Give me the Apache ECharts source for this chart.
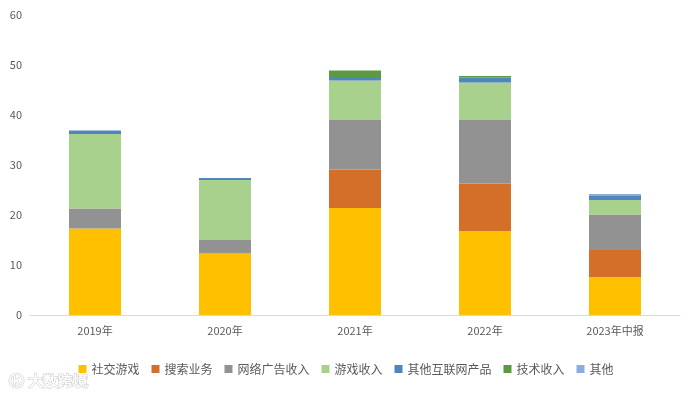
<!DOCTYPE html>
<html>
<head>
<meta charset="utf-8">
<script src="https://cdn.jsdelivr.net/npm/echarts@6/dist/echarts.min.js"></script>
<style>html,body{margin:0;padding:0;background:#fff}#c{width:692px;height:396px}</style>
</head>
<body>
<div id="c"></div>
<script>
const categories = ['2019年', '2020年', '2021年', '2022年', '2023年中报'];
const seriesNames = ['社交游戏', '搜索业务', '网络广告收入', '游戏收入', '其他互联网产品', '技术收入', '其他'];
const socialGames = [17.3, 12.3, 21.4, 16.8, 7.6];
const searchBiz = [0, 0, 7.7, 9.5, 5.4];
const onlineAds = [4.0, 2.7, 9.9, 12.7, 7.1];
const gameRevenue = [14.9, 12.0, 7.9, 7.5, 2.9];
const otherInternet = [0.7, 0.4, 0.7, 1.0, 0.8];
const techRevenue = [0, 0, 1.3, 0.3, 0];
const others = [0, 0, 0, 0, 0.4];
const yTicks = [0, 10, 20, 30, 40, 50, 60];

const colors = ['#FFC000', '#D36F28', '#929292', '#A9D18E', '#4F86BD', '#5B9A40', '#8FAADC'];
const dataList = [socialGames, searchBiz, onlineAds, gameRevenue, otherInternet, techRevenue, others];

const chart = echarts.init(document.getElementById('c'));
chart.setOption({
  animation: false,
  color: colors,
  textStyle: { fontFamily: '"Noto Sans CJK SC", "Noto Sans", sans-serif' },
  grid: { left: 30, right: 12, top: 15, bottom: 81, containLabel: false },
  legend: {
    bottom: 16,
    left: 'center',
    itemWidth: 8,
    itemHeight: 8,
    itemGap: 12,
    icon: 'rect',
    textStyle: { color: '#595959', fontSize: 12 },
    data: seriesNames
  },
  xAxis: {
    type: 'category',
    data: categories,
    axisLine: { lineStyle: { color: '#D9D9D9' } },
    axisTick: { show: false },
    axisLabel: { color: '#595959', fontSize: 11, margin: 10 }
  },
  yAxis: {
    type: 'value',
    min: yTicks[0],
    max: yTicks[yTicks.length - 1],
    interval: 10,
    splitLine: { show: false },
    axisLine: { show: false },
    axisTick: { show: false },
    axisLabel: { color: '#595959', fontSize: 11, margin: 8 }
  },
  graphic: [{
    type: 'text',
    left: 8,
    bottom: 6,
    style: { text: 'ⓚ 大数跨境', fill: '#ffffff', stroke: '#c8c8c8', lineWidth: 1, fontSize: 15, fontWeight: 'bold' }
  }],
  series: seriesNames.map((n, i) => ({
    name: n,
    type: 'bar',
    stack: 'total',
    barWidth: '40%',
    data: dataList[i]
  }))
});
</script>
</body>
</html>
